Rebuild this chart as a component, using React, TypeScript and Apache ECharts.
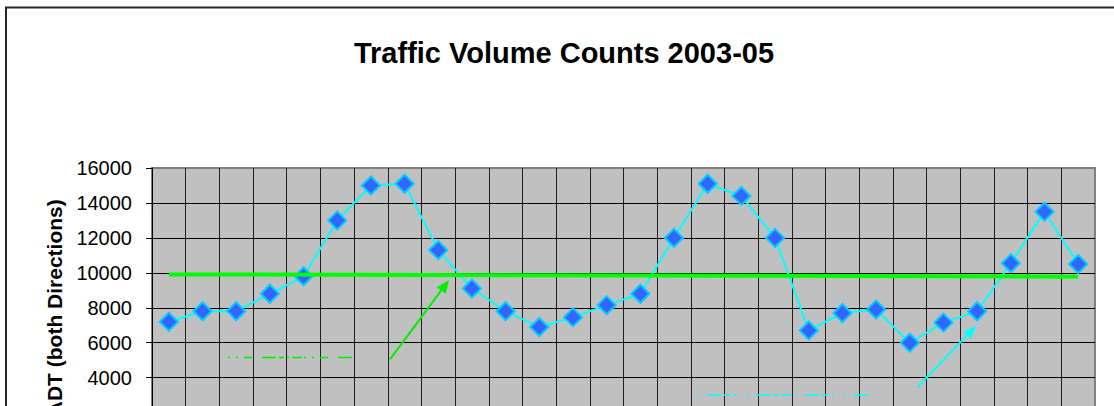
import React, { useEffect, useRef } from "react";
import * as echarts from "echarts";

const categories = [
  "1", "2", "3", "4", "5", "6", "7", "8", "9", "10", "11", "12", "13", "14",
  "15", "16", "17", "18", "19", "20", "21", "22", "23", "24", "25", "26", "27", "28",
];
const adtValues = [
  7200, 7800, 7800, 8800, 9800, 13000, 15000, 15100, 11300, 9100, 7800, 6900, 7450, 8150,
  8800, 12000, 15100, 14400, 12000, 6700, 7700, 7900, 6000, 7150, 7800, 10550, 13500, 10500,
];
const trendStartValue = 9910;
const trendEndValue = 9780;
const yTicks = { min: 0, max: 16000, interval: 2000 };
const titleText = "Traffic Volume Counts 2003-05";
const yAxisName = "ADT (both Directions)";

const FONT = "'Liberation Sans', Arial, sans-serif";

function arrow(tail: number[], tip: number[], color: string) {
  const dx = tip[0] - tail[0];
  const dy = tip[1] - tail[1];
  const len = Math.sqrt(dx * dx + dy * dy);
  const ux = dx / len;
  const uy = dy / len;
  const headLen = 13;
  const half = 5.5;
  const bx = tip[0] - headLen * ux;
  const by = tip[1] - headLen * uy;
  const nx = -uy;
  const ny = ux;
  return [
    {
      type: "line",
      shape: { x1: tail[0], y1: tail[1], x2: bx, y2: by },
      style: { stroke: color, lineWidth: 2 },
      z: 100,
    },
    {
      type: "polygon",
      shape: {
        points: [
          [tip[0], tip[1]],
          [bx + half * nx, by + half * ny],
          [bx - half * nx, by - half * ny],
        ],
      },
      style: { fill: color },
      z: 100,
    },
  ];
}

export default function App() {
  const ref = useRef<HTMLDivElement>(null);
  useEffect(() => {
    if (!ref.current) return;
    const chart = echarts.init(ref.current, null, { renderer: "svg" });
    chart.setOption({
      animation: false,
      backgroundColor: "#ffffff",
      grid: {
        left: 152,
        right: 19,
        top: 168,
        bottom: 32.5,
        show: true,
        backgroundColor: "#c0c0c0",
        borderColor: "#808080",
        borderWidth: 2,
      },
      xAxis: {
        type: "category",
        data: categories,
        boundaryGap: true,
        axisLine: { show: true, lineStyle: { color: "#000", width: 1 } },
        axisTick: { show: false },
        axisLabel: { show: false },
        splitLine: {
          show: true,
          showMinLine: false,
          showMaxLine: false,
          lineStyle: { color: "#1e1e1e", width: 1 },
        },
      },
      yAxis: {
        type: "value",
        min: yTicks.min,
        max: yTicks.max,
        interval: yTicks.interval,
        name: yAxisName,
        nameLocation: "middle",
        nameRotate: 90,
        nameGap: 83,
        nameTextStyle: {
          fontFamily: FONT,
          fontWeight: "bold",
          fontSize: 21,
          color: "#000",
        },
        axisLine: { show: true, lineStyle: { color: "#000", width: 1 } },
        axisTick: { show: true, inside: false, length: 6, lineStyle: { color: "#000" } },
        axisLabel: {
          margin: 20,
          fontFamily: FONT,
          fontSize: 20,
          color: "#000",
          formatter: (v: number) => String(v),
        },
        splitLine: {
          show: true,
          showMaxLine: false,
          lineStyle: { color: "#000", width: 1 },
        },
      },
      series: [
        {
          name: "ADT",
          type: "line",
          data: adtValues,
          symbol: "diamond",
          symbolSize: 18,
          lineStyle: { color: "#00ffff", width: 2 },
          itemStyle: { color: "#3366ff", borderColor: "#00ccff", borderWidth: 2 },
          z: 3,
        },
        {
          name: "Trend",
          type: "line",
          data: [
            [categories[0], trendStartValue],
            [categories[categories.length - 1], trendEndValue],
          ],
          symbol: "none",
          lineStyle: { color: "#00ff00", width: 4 },
          z: 4,
        },
      ],
      graphic: [
        {
          type: "rect",
          shape: { x: 6, y: 7.5, width: 1300, height: 700 },
          style: { fill: "none", stroke: "#262626", lineWidth: 2 },
          z: 50,
        },
        {
          type: "text",
          x: 564,
          y: 53,
          style: {
            text: titleText,
            fontFamily: FONT,
            fontWeight: "bold",
            fontSize: 29,
            fill: "#000",
            align: "center",
            verticalAlign: "middle",
          },
          z: 100,
        },
        ...arrow([390, 359.3], [449, 280], "#00ee00"),
        ...arrow([917.3, 387.3], [976, 326], "#00ffff"),
        {
          type: "line",
          shape: { x1: 228, y1: 357.5, x2: 352, y2: 357.5 },
          style: { stroke: "#00ee00", lineWidth: 1.5, lineDash: [2, 6, 2, 6, 8, 10, 14, 3, 5, 3, 2, 3, 10, 2] },
          z: 100,
        },
        {
          type: "line",
          shape: { x1: 697, y1: 395, x2: 869, y2: 395 },
          style: { stroke: "#00ffff", lineWidth: 1.5, lineDash: [2, 8, 14, 3, 6, 4, 2, 10, 2, 8, 14, 3, 5, 3, 10, 4] },
          z: 100,
        },
      ],
    });
    return () => chart.dispose();
  }, []);
  return (
    <div style={{ position: "fixed", left: 0, top: 0, width: 1114, height: 406, overflow: "hidden" }}>
      <div ref={ref} style={{ width: 1114, height: 480 }} />
    </div>
  );
}
